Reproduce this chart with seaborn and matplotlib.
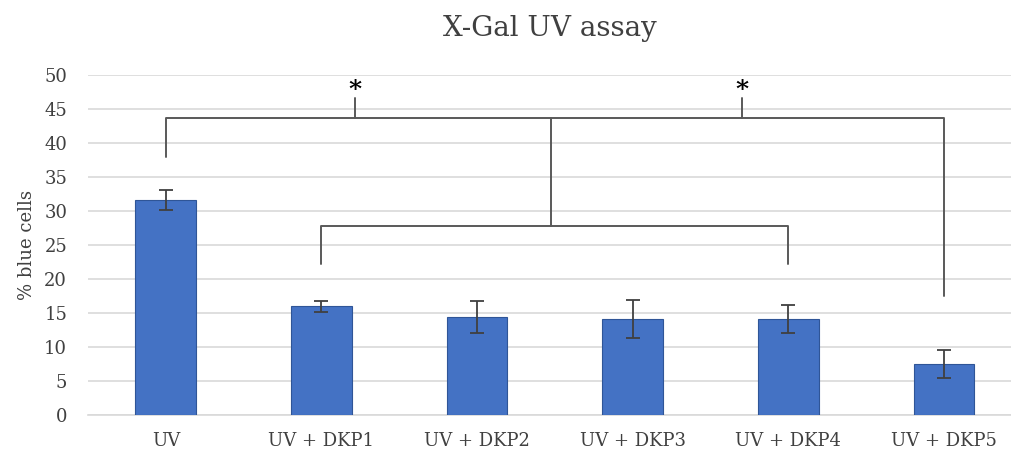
import matplotlib
matplotlib.use('Agg')
import matplotlib.pyplot as plt
import seaborn as sns
import pandas as pd

# data
groups = ['UV', 'UV + DKP1', 'UV + DKP2', 'UV + DKP3', 'UV + DKP4', 'UV + DKP5']
blue_pct = [31.6, 16.0, 14.4, 14.1, 14.1, 7.5]
err = [1.5, 0.8, 2.4, 2.8, 2.1, 2.0]

# significance brackets (category index, % level)
top_level = 43.7
low_level = 27.8
star_level = 46.6
uv_leg = 37.9
dkp_legs = [22.2, 22.2]
dkp5_leg = 17.5
star_x = [1.215, 3.70]

df = pd.DataFrame({'group': groups, 'pct': blue_pct})

sns.set_style('white')
plt.rcParams['font.family'] = ['DejaVu Serif']

fig = plt.figure(figsize=(10.11, 4.54), dpi=100)
ax = fig.add_axes([88 / 1011, 39 / 454, 1 - 88 / 1011, 340 / 454])

sns.barplot(data=df, x='group', y='pct', color='#4472C4', width=0.39,
            edgecolor='#2F5597', linewidth=0.8, saturation=1, ax=ax, zorder=3)
ax.errorbar(range(len(groups)), blue_pct, yerr=err, fmt='none', ecolor='#404040',
            elinewidth=1.3, capsize=5, capthick=1.3, zorder=4)

ax.set_ylim(0, 50)
ax.set_xlim(-0.5, 5.43)
ax.set_yticks(range(0, 51, 5))
ax.yaxis.grid(True, color='#d9d9d9', linewidth=1.2, zorder=0)
ax.set_axisbelow(True)
for s in ['left', 'right', 'top']:
    ax.spines[s].set_visible(False)
ax.spines['bottom'].set_color('#d9d9d9')
ax.spines['bottom'].set_linewidth(1.2)
ax.tick_params(axis='y', length=0, labelsize=13, colors='#404040', pad=15)
ax.tick_params(axis='x', length=0, labelsize=13, colors='#404040', pad=12)
ax.set_xlabel('')
ax.set_ylabel('% blue cells', fontsize=13, color='#404040', labelpad=6)
ax.set_title('X-Gal UV assay', fontsize=20, color='#404040', pad=28)

lc = '#595959'
lw = 1.4
mid = 2.474
ax.plot([0, 0, 5, 5], [uv_leg, top_level, top_level, dkp5_leg], color=lc, lw=lw, zorder=5)
ax.plot([1, 1, 4, 4], [dkp_legs[0], low_level, low_level, dkp_legs[1]], color=lc, lw=lw, zorder=5)
ax.plot([mid, mid], [low_level, top_level], color=lc, lw=lw, zorder=5)
for sx in star_x:
    ax.plot([sx, sx], [top_level, star_level], color=lc, lw=lw, zorder=5)
    ax.text(sx, star_level - 0.6, '*', ha='center', va='bottom', fontsize=18,
            fontweight='bold', color='black')

fig.savefig('out.png', dpi=100)
